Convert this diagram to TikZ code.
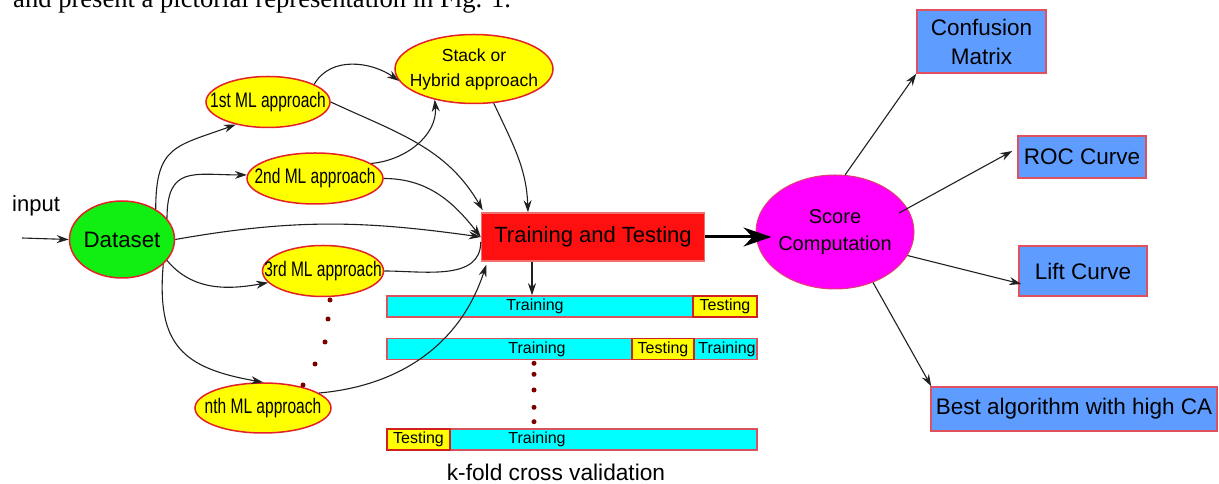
\documentclass[tikz,border=0pt]{standalone}
\usepackage{fontspec}
\setmainfont{Liberation Sans}
\newfontfamily\narrowf[FakeStretch=0.74]{Liberation Sans}
\newfontfamily\timesf{Liberation Serif}
\usetikzlibrary{shapes.geometric,arrows.meta}
\definecolor{ylw}{HTML}{FFFF00}
\definecolor{ellred}{HTML}{E42028}
\definecolor{dsgreen}{HTML}{11EE11}
\definecolor{magf}{HTML}{FF00FF}
\definecolor{scoreedge}{HTML}{E04070}
\definecolor{ttred}{HTML}{FF1010}
\definecolor{ttedge}{HTML}{F07070}
\definecolor{boxblue}{HTML}{5E9DFF}
\definecolor{boxedge}{HTML}{E0505F}
\definecolor{cyanf}{HTML}{00FFFF}
\definecolor{baredge}{HTML}{D9535F}
\definecolor{testedge}{HTML}{D02020}
\definecolor{dotred}{HTML}{7A0000}
\definecolor{linec}{HTML}{202020}
\begin{document}
\begin{tikzpicture}[x=1pt,y=1pt,
  conn/.style={draw=linec, line width=1.1pt, -{Stealth[length=12pt,width=8pt]}},
  plain/.style={draw=linec, line width=1.1pt},
  bigarr/.style={draw=black, line width=3pt, -{Stealth[length=28pt,width=19pt]}},
  ell/.style={ellipse, draw=ellred, line width=1.5pt, inner sep=0pt},
  mlnode/.style={ell, fill=ylw, minimum height=51pt},
  mltext/.style={font=\narrowf\fontsize{21}{22}\selectfont, inner sep=0pt},
  resbox/.style={rectangle, draw=boxedge, fill=boxblue, line width=1.5pt, inner sep=0pt, font=\fontsize{22.5}{29}\selectfont, align=center},
  barbox/.style={rectangle, draw=baredge, fill=cyanf, line width=1.5pt, inner sep=0pt, minimum height=21pt},
  testbox/.style={rectangle, draw=testedge, fill=ylw, line width=1.5pt, inner sep=0pt, minimum height=21pt, font=\fontsize{16}{18}\selectfont},
  bartext/.style={font=\fontsize{16}{18}\selectfont, inner sep=0pt},
  dotm/.style={circle, fill=dotred, inner sep=0pt, minimum size=5pt},
]
\useasboundingbox (0,0) rectangle (1219,484);
\clip (0,0) rectangle (1219,484);

% top text line (cut by the border, as in the reference)
\node[font=\timesf\fontsize{26.6}{30}\selectfont, anchor=base west, inner sep=0pt] (toptext) at (13,476.5) {and present a pictorial representation in Fig. 1.};

% input
\node[font=\fontsize{22}{26}\selectfont, anchor=base west, inner sep=0pt] (inputlbl) at (12,272) {input};
\coordinate (inp) at (22,246);

% nodes
\node[ell, fill=dsgreen, minimum width=105pt, minimum height=77pt,
      label={[inner sep=0pt, font=\fontsize{22.3}{26}\selectfont]center:Dataset}] (dataset) at (122,244.5) {};
\node[mlnode, minimum width=124pt, label={[mltext]center:1st ML approach}] (ml1) at (268,382) {};
\node[mlnode, minimum width=136pt, label={[mltext]center:2nd ML approach}] (ml2) at (315,305.5) {};
\node[mlnode, minimum width=121pt, label={[mltext]center:3rd ML approach}] (ml3) at (323,213) {};
\node[mlnode, minimum width=136pt, minimum height=50pt, label={[mltext]center:nth ML approach}] (mln) at (263,76) {};
\node[ell, fill=ylw, minimum width=158pt, minimum height=69pt,
      label={[inner sep=0pt, align=center, font=\fontsize{17.5}{25}\selectfont]center:Stack or\\Hybrid approach}] (stack) at (474,415) {};
\node[rectangle, fill=ttred, draw=ttedge, line width=1.5pt, minimum width=223pt, minimum height=48pt, inner sep=0pt,
      font=\fontsize{22}{26}\selectfont] (tt) at (593,247) {Training and Testing};
\node[ellipse, fill=magf, draw=scoreedge, line width=1pt, inner sep=0pt, minimum width=158pt, minimum height=114pt,
      label={[inner sep=0pt, align=center, font=\fontsize{20}{27}\selectfont]center:Score\\Computation}] (score) at (835,252) {};

\node[resbox, minimum width=129pt, minimum height=63pt] (conf) at (981.5,442.5) {Confusion\\Matrix};
\node[resbox, minimum width=128pt, minimum height=42pt] (roc) at (1082,327) {ROC Curve};
\node[resbox, minimum width=128pt, minimum height=50pt] (lift) at (1083,213) {Lift Curve};
\node[resbox, minimum width=286pt, minimum height=44pt] (best) at (1074,75) {Best algorithm with high CA};

% k-fold bars
\node[barbox, minimum width=370pt] (bar1) at (572,177.5) {};
\node[testbox, minimum width=64pt] (te1) at (725,177.5) {Testing};
\node[bartext] (tr1) at (535,177.5) {Training};

\node[barbox, minimum width=370pt] (bar2) at (572,135) {};
\node[testbox, minimum width=62pt] (te2) at (663,135) {Testing};
\node[bartext] (tr2) at (537,135) {Training};
\node[bartext] (tr2b) at (727,135) {Training};

\node[barbox, minimum width=370pt] (bar3) at (572,44.5) {};
\node[testbox, minimum width=63pt] (te3) at (418.5,44.5) {Testing};
\node[bartext] (tr3) at (537,44.5) {Training};

\node[font=\fontsize{22.7}{26}\selectfont, anchor=base, inner sep=0pt] (kfold) at (556,3) {k-fold cross validation};

% dots
\foreach \i/\px/\py in {1/330/184,2/328/165,3/325/142,4/315/120,5/303/99}
  \node[dotm] (d\i) at (\px,\py) {};
\foreach \i/\py in {1/120.7,2/109.7,3/94,4/76.7,5/62.3}
  \node[dotm] (e\i) at (534,\py) {};

% connectors
\draw[conn] (inp) -- (dataset.west);
\draw[conn] (dataset.42) to[out=90,in=200,looseness=1.4] (ml1.215);
\draw[conn] (dataset.25) to[out=90,in=180,looseness=1.5] (ml2.177);
\draw[conn] (dataset.east) to[out=10,in=172] (tt.west);
\draw[conn] (dataset.-25) to[out=-50,in=190] (ml3.192);
\draw[conn] (dataset.-31) to[out=-95,in=170,looseness=1.35] (mln.north);

\draw[conn] (ml1.21) to[out=60,in=145] (stack.189);
\draw[conn] (ml1.east) to[out=-25,in=120] ([shift={(2pt,2pt)}]tt.north west);
\draw[conn] (ml2.15) to[out=5,in=-85] (stack.218);
\draw[conn] (ml2.east) to[out=0,in=128] (tt.west);
\draw[plain] (ml3.east) to[out=0,in=-90] ([yshift=-5pt]tt.west);
\draw[conn] (mln.15) to[out=5,in=-108] ([shift={(5.5pt,-3pt)}]tt.south west);
\draw[conn] (stack.-60) to[out=-65,in=92] ([xshift=-65pt]tt.north);

\draw[conn] ([xshift=-61pt]tt.south) -- ([xshift=-61pt]tt.south |- bar1.north);
\draw[bigarr] (tt.east) -- ([xshift=16pt]tt.east -| score.west);

\draw[conn] (score.80) -- (conf.south west);
\draw[conn] ([shift={(64pt,19pt)}]score.center) -- ([shift={(-5pt,6pt)}]roc.west);
\draw[conn] (score.-18) -- ([shift={(3pt,-13pt)}]lift.west);
\draw[conn] (score.-53) -- ([xshift=1pt]best.north west);
\end{tikzpicture}
\end{document}
